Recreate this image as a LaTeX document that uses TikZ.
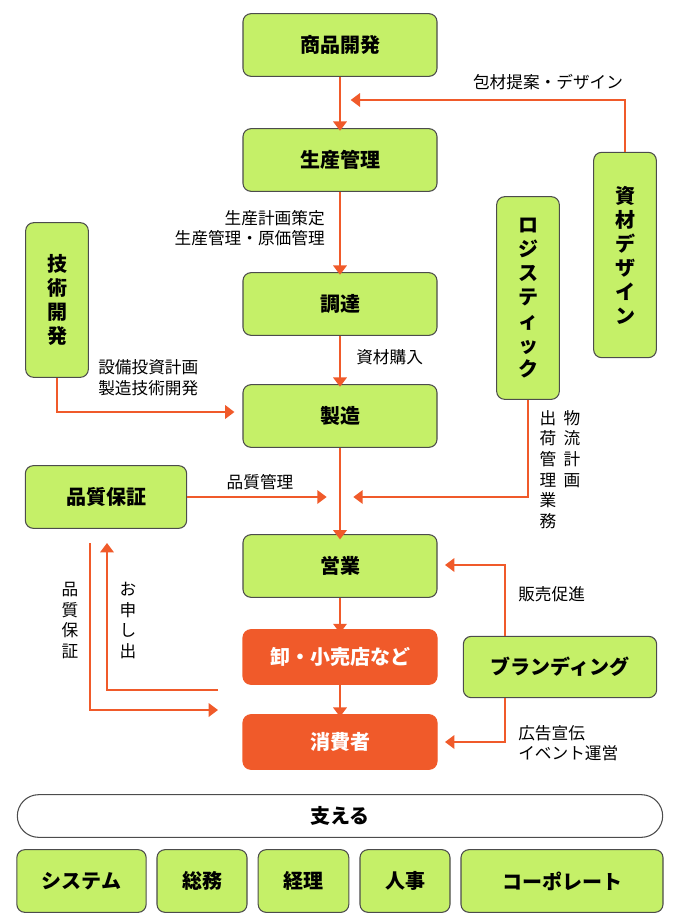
\documentclass[tikz,border=0pt]{standalone}
\usepackage{fontspec}
\setmainfont{Noto Sans CJK JP}
\usetikzlibrary{positioning,arrows.meta}
\definecolor{boxgreen}{RGB}{197,240,104}
\definecolor{arrowred}{RGB}{240,90,42}
\tikzset{
  box/.style={draw=black!70,fill=boxgreen,rounded corners=6pt,line width=0.8pt,
    font=\fontsize{15}{18}\selectfont\bfseries,align=center,inner sep=0pt},
  shop/.style={box,fill=arrowred,draw=arrowred,text=white},
  flow/.style={draw=arrowred,line width=2.2pt,-{Triangle[length=7pt,width=10pt]}},
  lbl/.style={font=\fontsize{12.5}{15.5}\selectfont,align=center,inner sep=0pt},
}
\begin{document}
\begin{tikzpicture}[x=0.75pt,y=-0.75pt]
 \useasboundingbox (0,0) rectangle (680,922);
 % main column
 \node[box,minimum width=145.5pt,minimum height=47pt] (plan)    at (340,45)  {商品開発};
 \node[box,minimum width=145.5pt,minimum height=47pt] (prod)    at (340,160) {生産管理};
 \node[box,minimum width=145.5pt,minimum height=47pt] (buy)     at (340,304) {調達};
 \node[box,minimum width=145.5pt,minimum height=47pt] (make)    at (340,416) {製造};
 \node[box,minimum width=145.5pt,minimum height=47pt] (sales)   at (340,566) {営業};
 \node[shop,minimum width=145.5pt,minimum height=41pt] (retail) at (340,657) {卸・小売店など};
 \node[shop,minimum width=145.5pt,minimum height=41pt] (user)   at (340,742) {消費者};
 % side boxes
 \node[box,minimum width=47pt,minimum height=116pt] (tech)      at (57,300)  {技\\術\\開\\発};
 \node[box,minimum width=121pt,minimum height=47pt] (quality)   at (106,497) {品質保証};
 \node[box,minimum width=47pt,minimum height=152pt] (logi)      at (528,298) {ロ\\ジ\\ス\\テ\\ィ\\ッ\\ク};
 \node[box,minimum width=47pt,minimum height=154pt] (design)    at (625,255) {資\\材\\デ\\ザ\\イ\\ン};
 \node[box,minimum width=145pt,minimum height=46pt] (brand)     at (560,667) {ブランディング};
 % support row
 \node[draw=black!70,rounded corners=16pt,line width=0.8pt,minimum width=484pt,minimum height=32pt,
   font=\fontsize{15}{18}\selectfont\bfseries] (base) at (340,816) {支える};
 \node[box,minimum width=97pt,minimum height=47pt]  (sys)  at (81.5,881) {システム};
 \node[box,minimum width=67.5pt,minimum height=47pt] (gen)  at (202,881)  {総務};
 \node[box,minimum width=68pt,minimum height=47pt]  (acc)  at (303.5,881) {経理};
 \node[box,minimum width=67.5pt,minimum height=47pt] (hr)   at (405,881)  {人事};
 \node[box,minimum width=151.5pt,minimum height=47pt] (corp) at (562,881)  {コーポレート};
 % joints
 \coordinate (j1) at (340,100);
 \coordinate (j2) at (340,497);
 \coordinate (j3) at (437,565);
 \coordinate (j4) at (437,742);
 \coordinate (q1) at (90,543);
 \coordinate (q2) at (218,710);
 \coordinate (c1) at (218,690);
 \coordinate (c2) at (107,543);
 % flows
 \draw[flow] (plan) -- ([yshift=-2pt]prod.north);
 \draw[flow] (design.north) |- ([xshift=8pt]j1);
 \draw[flow] (prod) -- ([yshift=-2pt]buy.north);
 \draw[flow] (buy) -- ([yshift=-2pt]make.north);
 \draw[flow] (tech.south) |- ([xshift=-6pt]make.west |- 0,412);
 \draw[flow] (make) -- ([yshift=-4pt]sales.north);
 \draw[flow] (quality.east) -- ([xshift=-10pt]j2);
 \draw[flow] (logi.south) |- ([xshift=10pt]j2);
 \draw[flow] (sales) -- ([yshift=-3pt]retail.north);
 \draw[flow] (retail) -- ([yshift=-2pt]user.north);
 \draw[flow] (brand.north -| 505,0) |- ([xshift=6pt]j3);
 \draw[flow] (brand.south -| 505,0) |- ([xshift=6pt]j4);
 \draw[flow] (q1) |- (q2);
 \draw[flow] (c1) -| (c2);
 % labels
 \node[lbl] (l1) at (548,82) {包材提案・デザイン};
 \node[lbl,align=right,anchor=east] (l2) at (325,228) {生産計画策定\\生産管理・原価管理};
 \node[lbl,anchor=west] (l3) at (356,357) {資材購入};
 \node[lbl,align=left,anchor=west] (l4) at (98,378) {設備投資計画\\製造技術開発};
 \node[lbl] (l5) at (260,482) {品質管理};
 \node[lbl,anchor=north] (l6) at (548,410) {出\\荷\\管\\理\\業\\務};
 \node[lbl,anchor=north] (l7) at (572,410) {物\\流\\計\\画};
 \node[lbl,anchor=west] (l8) at (518,594) {販売促進};
 \node[lbl,align=left,anchor=west] (l9) at (518,743) {広告宣伝\\イベント運営};
 \node[lbl,anchor=north] (l10) at (70,582) {品\\質\\保\\証};
 \node[lbl,anchor=north] (l11) at (128,582) {お\\申\\し\\出};
\end{tikzpicture}
\end{document}
